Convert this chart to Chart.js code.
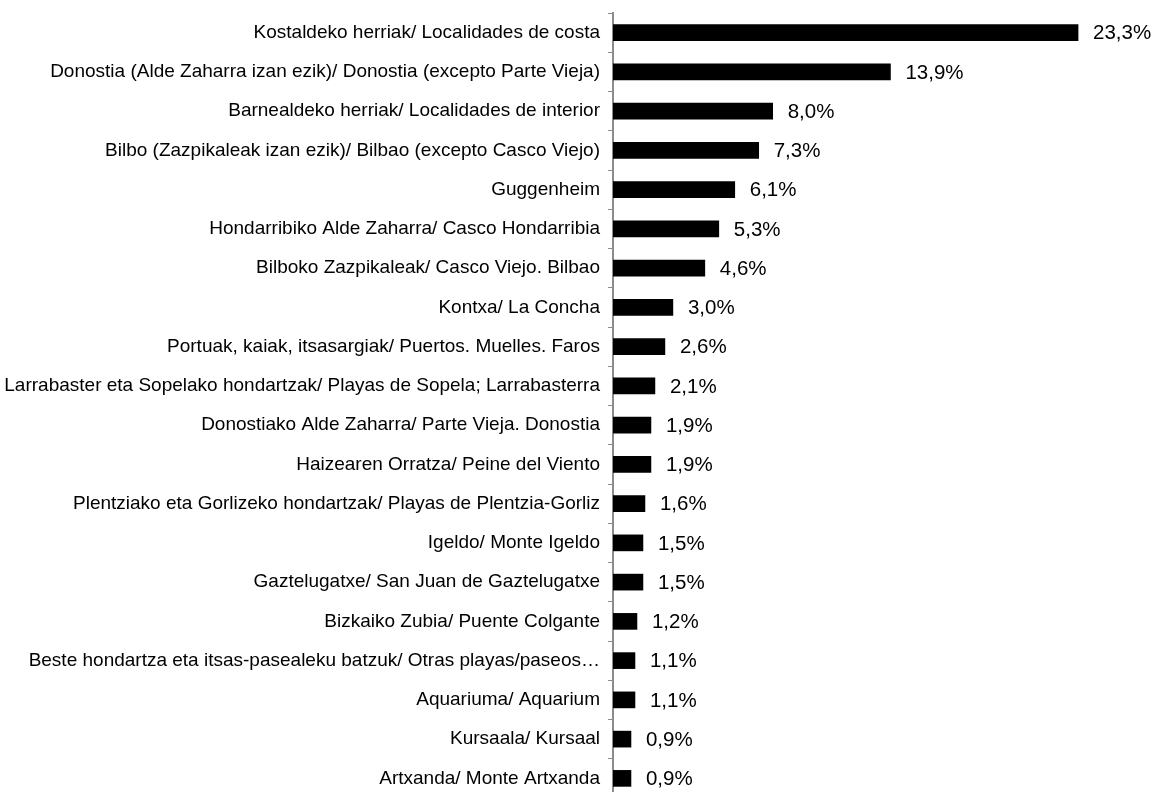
<!DOCTYPE html>
<html>
<head>
<meta charset="utf-8">
<script src="https://cdn.jsdelivr.net/npm/chart.js@4/dist/chart.umd.min.js"></script>
<style>
  html, body { margin: 0; padding: 0; background: #fff; overflow: hidden; }
  #wrap { position: relative; width: 1157px; height: 812px; }
</style>
</head>
<body>
<div id="wrap"><canvas id="myChart"></canvas></div>
<script>
const places = [
    "Kostaldeko herriak/ Localidades de costa",
    "Donostia (Alde Zaharra izan ezik)/ Donostia (excepto Parte Vieja)",
    "Barnealdeko herriak/ Localidades de interior",
    "Bilbo (Zazpikaleak izan ezik)/ Bilbao (excepto Casco Viejo)",
    "Guggenheim",
    "Hondarribiko Alde Zaharra/ Casco Hondarribia",
    "Bilboko Zazpikaleak/ Casco Viejo. Bilbao",
    "Kontxa/ La Concha",
    "Portuak, kaiak, itsasargiak/ Puertos. Muelles. Faros",
    "Larrabaster eta Sopelako hondartzak/ Playas de Sopela; Larrabasterra",
    "Donostiako Alde Zaharra/ Parte Vieja. Donostia",
    "Haizearen Orratza/ Peine del Viento",
    "Plentziako eta Gorlizeko hondartzak/ Playas de Plentzia-Gorliz",
    "Igeldo/ Monte Igeldo",
    "Gaztelugatxe/ San Juan de Gaztelugatxe",
    "Bizkaiko Zubia/ Puente Colgante",
    "Beste hondartza eta itsas-pasealeku batzuk/ Otras playas/paseos…",
    "Aquariuma/ Aquarium",
    "Kursaala/ Kursaal",
    "Artxanda/ Monte Artxanda"
];
const shares = [23.3, 13.9, 8.0, 7.3, 6.1, 5.3, 4.6, 3.0, 2.6, 2.1, 1.9, 1.9, 1.6, 1.5, 1.5, 1.2, 1.1, 1.1, 0.9, 0.9];

// value labels to the right of each bar, "23,3%" style
const valueLabels = {
    id: 'valueLabels',
    afterDatasetsDraw(chart) {
        const c = chart.ctx;
        const meta = chart.getDatasetMeta(0);
        c.save();
        c.font = '20.5px "Liberation Sans", Arial, sans-serif';
        c.fillStyle = '#000';
        c.textBaseline = 'middle';
        c.textAlign = 'left';
        meta.data.forEach((bar, i) => {
            const txt = shares[i].toFixed(1).replace('.', ',') + '%';
            c.fillText(txt, bar.x + 15, bar.y + 1);
        });
        c.restore();
    }
};

const ctx = document.getElementById('myChart');
new Chart(ctx, {
    type: 'bar',
    data: {
        labels: places,
        datasets: [{
            data: shares,
            backgroundColor: '#000',
            barThickness: 16
        }]
    },
    options: {
        indexAxis: 'y',
        responsive: true,
        maintainAspectRatio: false,
        animation: false,
        layout: { padding: { top: 13, bottom: 14, right: 45, left: 0 } },
        plugins: { legend: { display: false }, tooltip: { enabled: false } },
        scales: {
            x: { display: false, min: 0, max: 25 },
            y: {
                afterFit(scale) {
                    scale.width = 613;
                    scale.paddingTop = 0;
                    scale.paddingBottom = 0;
                },
                border: { color: '#8c8c8c', width: 2 },
                grid: {
                    offset: true,
                    drawOnChartArea: false,
                    color: '#8c8c8c',
                    tickLength: 5,
                    lineWidth: 1
                },
                ticks: {
                    color: '#000',
                    padding: 8,
                    autoSkip: false,
                    font: { family: '"Liberation Sans", Arial, sans-serif', size: 19 }
                }
            }
        }
    },
    plugins: [valueLabels]
});
</script>
</body>
</html>
